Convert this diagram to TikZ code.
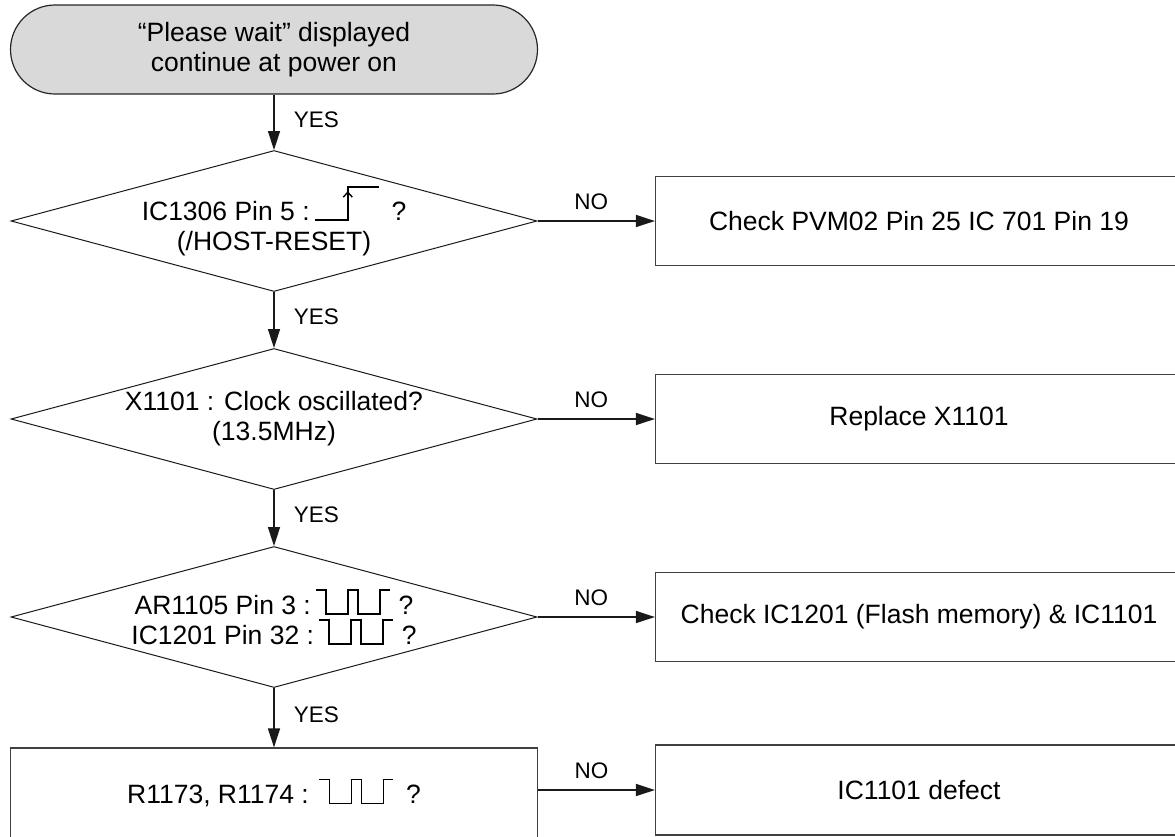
\documentclass[tikz,border=0pt]{standalone}
\usepackage{fontspec}
\setmainfont{Liberation Sans}
\usetikzlibrary{arrows.meta, positioning, shapes.geometric}
\newcommand{\flowfont}{\fontsize{26.5}{30}\selectfont}
\newcommand{\tagfont}{\fontsize{22.5}{24}\selectfont}
% waveforms drawn inside the node texts
\newcommand{\riseedge}{\tikz[baseline=0pt, x=1pt, y=1pt, line width=1.4pt]{\draw (0,0) -- (33,0) -- (33,33) -- (64,33); \draw[-{Straight Barb[length=5pt,width=9pt]}] (33,12) -- (33,29);}}
\newcommand{\pulsetrain}{\tikz[baseline=0pt, x=1pt, y=1pt, line width=1.4pt]{\draw (0,24) -- (10,24) -- (10,0) -- (32,0) -- (32,24) -- (42,24) -- (42,0) -- (64,0) -- (64,24) -- (74,24);}}
\tikzset{terminal/.style={draw=black!85, line width=1.2pt, fill=black!15, rounded corners=44.5pt, minimum width=527pt, minimum height=89pt, align=center, font=\flowfont},
  decision/.style={diamond, draw=black!90, line width=1pt, aspect=3.73, inner sep=0pt, minimum width=526pt, minimum height=141pt, align=center, font=\flowfont},
  process/.style={rectangle, draw=black!75, line width=1.2pt, minimum width=527pt, minimum height=89pt, align=center, font=\flowfont},
  flow/.style={-{Triangle[length=19pt,width=12pt]}, line width=1.5pt, draw=black!90},
  yestag/.style={right=19pt, inner sep=0pt, yshift=3pt, font=\tagfont},
  notag/.style={above=11pt, inner sep=0pt, xshift=-5pt, font=\tagfont}}

\begin{document}
\begin{tikzpicture}[node distance=198pt]
  \useasboundingbox (0,0) rectangle (1175pt,-836pt);
  \node[terminal] (please_wait) at (274pt,-49.5pt) {“Please wait” displayed\\continue at power on};
  \node[decision, below of=please_wait, node distance=171.5pt] (host_reset) {IC1306 Pin 5 :\,\riseedge\hspace{12pt}?\\(/HOST-RESET)};
  \node[decision, below of=host_reset] (clock_check) {X1101 : Clock oscillated?\\(13.5MHz)};
  \node[decision, below of=clock_check] (flash_check) {AR1105 Pin 3 :\,\pulsetrain\hspace{8pt}?\\IC1201 Pin 32 :\,\pulsetrain\hspace{8pt}?};
  \node[process, below of=flash_check, node distance=176pt, minimum height=90pt] (r1173_check) {R1173, R1174 : \pulsetrain\hspace{12pt}?};
  \node[process, right of=host_reset, node distance=645pt] (check_pvm02) {Check PVM02 Pin 25 IC 701 Pin 19};
  \node[process, right of=clock_check, node distance=645pt] (replace_x1101) {Replace X1101};
  \node[process, right of=flash_check, node distance=645pt] (check_ic1201) {Check IC1201 (Flash memory) \& IC1101};
  \node[process, right of=r1173_check, node distance=645pt, yshift=3pt, minimum height=90pt] (ic1101_defect) {IC1101 defect};

  \draw (please_wait) edge[flow] node[yestag] {YES} (host_reset)
        (host_reset) edge[flow] node[yestag] {YES} (clock_check)
        (clock_check) edge[flow] node[yestag] {YES} (flash_check)
        (flash_check) edge[flow] node[yestag] {YES} (r1173_check)
        (host_reset) edge[flow] node[notag] {NO} (check_pvm02)
        (clock_check) edge[flow] node[notag] {NO} (replace_x1101)
        (flash_check) edge[flow] node[notag] {NO} (check_ic1201)
        (r1173_check.east |- ic1101_defect.west) edge[flow] node[notag] {NO} (ic1101_defect);
\end{tikzpicture}
\end{document}
